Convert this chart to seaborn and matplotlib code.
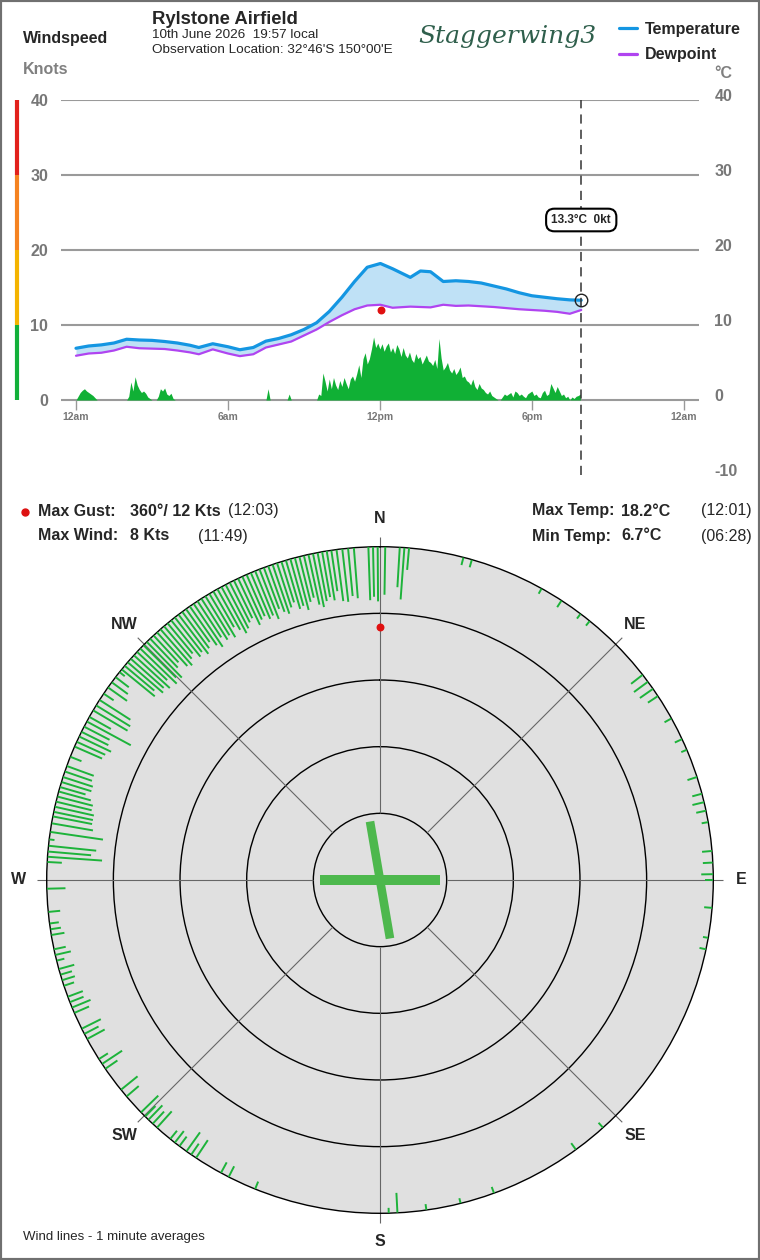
import numpy as np
import pandas as pd
import matplotlib
matplotlib.use('Agg')
import matplotlib.pyplot as plt
import matplotlib.transforms as mtransforms
from matplotlib.patches import Rectangle
from matplotlib.lines import Line2D
import seaborn as sns

sns.set_style('white')
plt.rcParams['font.family'] = ['Liberation Sans', 'DejaVu Sans']

# ---------------- data ----------------
# temperature / dewpoint (hours since midnight)
temp_hours = [0, 0.5, 1, 1.5, 2, 2.5, 3, 3.5, 4, 4.5, 4.85, 5.4, 6, 6.47, 7, 7.5, 8, 8.5, 9, 9.5,
              10, 10.5, 11, 11.5, 12.02, 12.5, 13.2, 13.6, 14.0, 14.5, 15, 15.5, 16, 16.5, 17,
              17.5, 18, 18.5, 19, 19.5, 19.95]
temp_c = [6.9, 7.2, 7.35, 7.6, 8.1, 8.0, 7.95, 7.8, 7.6, 7.3, 7.0, 7.5, 7.1, 6.7, 7.0, 7.85, 8.2, 8.7, 9.4, 10.3,
          11.8, 13.7, 15.8, 17.7, 18.2, 17.5, 16.35, 17.2, 17.1, 15.8, 15.9, 15.8, 15.6, 15.2, 14.8,
          14.3, 13.9, 13.7, 13.5, 13.35, 13.3]
dew_c = [5.9, 6.2, 6.3, 6.6, 7.1, 6.9, 6.85, 6.8, 6.6, 6.35, 6.1, 6.75, 6.2, 5.85, 6.1, 7.0, 7.4, 7.8, 8.6, 9.4,
         10.4, 11.3, 12.1, 12.6, 12.7, 12.3, 12.45, 12.4, 12.35, 12.7, 12.55, 12.6, 12.5, 12.4, 12.25,
         12.1, 12.0, 11.9, 11.75, 11.5, 12.0]

# wind speed, knots, 5 minute steps from midnight (one row per hour)
wind_kts = [
    0, 0.5, 1.0, 1.3, 1.5, 1.2, 1.0, 0.8, 0.6, 0.3, 0, 0,
    0, 0, 0, 0, 0, 0, 0, 0, 0, 0, 0, 0,
    0, 0.5, 2.4, 1.2, 3.1, 2.0, 1.4, 1.0, 1.2, 0.9, 0.4, 0.2,
    0, 0, 0, 0.5, 1.5, 1.2, 1.6, 0.8, 0.6, 0.9, 0.2, 0,
    0, 0, 0, 0, 0, 0, 0, 0, 0, 0, 0, 0,
    0, 0, 0, 0, 0, 0, 0, 0, 0, 0, 0, 0,
    0, 0, 0, 0, 0, 0, 0, 0, 0, 0, 0, 0,
    0, 0, 0, 0, 0, 0, 0, 1.5, 0, 0, 0, 0,
    0, 0, 0, 0, 0, 0.8, 0, 0, 0, 0, 0, 0,
    0, 0, 0, 0, 0, 0, 0, 0.8, 0.6, 3.6, 2.5, 1.2,
    2.8, 1.5, 3.0, 2.0, 1.4, 2.6, 1.8, 3.0, 2.2, 1.5, 2.8, 3.2,
    2.5, 3.5, 4.7, 3.0, 5.5, 6.3, 4.8, 5.5, 6.8, 8.4, 7.0, 7.6,
    6.8, 7.5, 6.5, 7.2, 7.6, 6.4, 7.0, 6.2, 7.4, 6.8, 5.8, 7.0,
    6.0, 5.6, 6.4, 5.4, 5.0, 6.2, 5.5, 5.8, 4.8, 5.4, 6.0, 5.2,
    5.0, 4.6, 5.4, 4.2, 8.2, 5.6, 4.0, 4.4, 5.0, 4.0, 3.6, 4.2,
    3.4, 3.8, 4.4, 3.0, 3.2, 2.6, 2.4, 2.0, 2.8, 1.8, 1.4, 2.2,
    1.6, 1.4, 1.0, 0.8, 1.2, 0.6, 0.4, 0.2, 0, 0, 0.4, 0.8,
    0.6, 0.8, 1.0, 0.4, 1.2, 1.0, 0.6, 0.8, 0.5, 0.3, 0.8, 1.0,
    1.2, 0.6, 0.8, 0.4, 0.3, 1.0, 1.3, 0.6, 0.8, 2.2, 1.6, 1.0,
    1.8, 1.2, 0.6, 0.8, 0.3, 0.5, 0, 0.4, 0.2, 0.5, 0.6, 0.8,
]
wind_step_hr = 5 / 60

now_hour = 19.95
now_temp = 13.3
now_wind = 0
gust_hour = 12.05
gust_kts = 12
gust_dir = 360

x_ticks = [0, 6, 12, 18, 24]
x_labels = ['12am', '6am', '12pm', '6pm', '12am']
left_ticks = [0, 10, 20, 30, 40]
right_ticks = [-10, 0, 10, 20, 30, 40]
band_edges = [0, 10, 20, 30, 40]
band_colors = ['#12b03a', '#f4b400', '#f58220', '#e2211c']

# 1 minute wind lines: direction (deg) and speed (kts)
line_dir = [
    14.5, 16, 29, 33, 37, 39, 52, 53.5, 55, 56.5, 61, 65, 67, 72, 75, 76.5, 78, 80, 85, 87, 89, 90,
    94.8, 100, 102, 138, 144, 160, 166, 172, 177, 178.5,
    202, 207, 208.5, 213.5, 214.5, 215.5, 217, 218, 219, 222, 223, 224, 224.8, 225.8, 229.5, 231,
    235.5, 236.5, 237.5, 241.5, 242.5, 243.5, 246.5, 247.5, 248.5, 249.5, 251.5, 252.5, 253.5, 254.5,
    256, 257, 258, 260.5, 261.5, 262.5, 264.5, 268.5,
    273.1, 274, 274.9, 275.9, 277, 278.3, 279.8, 281, 281.8, 282.7, 283.6, 284.5, 285.4, 286.2,
    287.1, 288, 289, 290, 291.7, 293.6, 294.5, 295.5, 296.4, 297.4, 298.4, 299.3, 300.6, 301.6,
    302.7, 304, 305.3, 306.4, 307.5, 308.6,
    309.2, 310.0, 310.8, 311.6, 312.4, 313.2, 314.0, 314.8, 315.6, 316.4, 317.2, 318.0, 318.8,
    319.6, 320.4, 321.2, 322.0, 322.8, 323.6, 324.4, 325.2, 326.0, 326.8, 327.6, 328.4, 329.2,
    330.0, 330.8, 331.6, 332.4, 333.2, 334.0, 334.8, 335.6, 336.4, 337.2, 338.0, 338.8, 339.6,
    340.4, 341.2, 342.0, 342.8, 343.6, 344.4, 345.2, 346.0, 346.8, 347.6, 348.4, 349.2, 350.0,
    350.8, 351.6, 352.5, 353.5, 354.5, 355.5, 358, 358.8, 359.6, 0.9, 3.4, 4.2, 5.0,
]
line_kts = [
    1.2, 1.2, 0.9, 1.2, 0.9, 0.9, 2.2, 2.6, 2.4, 1.8, 1.2, 1.2, 0.9, 1.5, 1.5, 1.8, 1.5, 1.0, 1.5, 1.5, 1.8, 1.2,
    1.2, 0.8, 1.0, 1.0, 1.2, 1.0, 0.8, 0.9, 3.0, 0.8,
    1.2, 1.8, 1.8, 3.2, 2.0, 3.5, 1.8, 2.2, 1.6, 3.3, 2.5, 3.0, 2.2, 3.6, 2.4, 3.2,
    2.2, 3.6, 1.6, 3.0, 2.4, 3.2, 2.4, 3.0, 2.2, 2.4, 1.6, 2.0, 1.8, 2.4,
    1.2, 2.4, 1.8, 2.0, 1.6, 1.4, 1.8, 2.8,
    2.2, 8.2, 6.5, 7.2, 0.8, 8.0, 6.3, 6.0, 6.0, 6.0, 5.5, 5.5, 5.0, 4.0,
    4.7, 4.7, 4.3, 4.3, 1.8, 4.5, 4.7, 5.3, 4.5, 4.3, 7.5, 3.7, 6.0, 6.0,
    5.5, 1.8, 3.5, 3.0, 2.5, 1.0,
    6.4, 5.8, 7.0, 6.6, 7.3, 6.2, 7.6, 6.9, 7.5, 6.0, 5.5, 6.8, 7.2,
    6.4, 5.9, 7.0, 6.6, 7.4, 6.8, 6.1, 7.1, 7.8, 6.5, 7.3, 6.9, 7.6,
    6.2, 7.0, 7.9, 7.4, 6.7, 6.3, 7.7, 7.1, 6.8, 7.5, 7.2, 8.0, 6.6,
    7.3, 7.8, 7.0, 6.4, 7.6, 7.3, 8.1, 7.0, 6.5, 7.7, 8.2, 7.4, 6.9,
    7.5, 6.2, 7.8, 8.0, 7.2, 7.6, 8.0, 7.5, 8.2, 7.2, 6.0, 7.8, 3.3,
]
ring_kts = [10, 20, 30, 40]
rose_max = 50
cross_dir = [90, 350.3]
cross_len = [9.07, 8.9]
cross_width = [7.2, 6.2]
compass_dir = [0, 45, 90, 135, 180, 225, 270, 315]
compass_lab = ['N', 'NE', 'E', 'SE', 'S', 'SW', 'W', 'NW']

# ---------------- figure ----------------
W, H = 760, 1260
fig = plt.figure(figsize=(W / 100, H / 100), dpi=100)


def px_rect(x0, y0, x1, y1):
    return [x0 / W, 1 - y1 / H, (x1 - x0) / W, (y1 - y0) / H]


def ftxt(x, y, s, **kw):
    kw.setdefault('va', 'center')
    return fig.text(x / W, 1 - y / H, s, **kw)


GRAY = '#808080'
BIG = 11.5

# --- top chart
ax = fig.add_axes(px_rect(60.7, 100, 699, 475))
ax.set_xlim(-0.604, 24.6)
ax.set_ylim(-10, 40)
ax.set_axisbelow(True)

wind_t = np.arange(len(wind_kts)) * wind_step_hr
ax.fill_between(wind_t, 0, wind_kts, color='#10b035', lw=0, zorder=2)

df = pd.DataFrame({'hour': temp_hours, 'Temperature': temp_c, 'Dewpoint': dew_c})
ax.fill_between(df['hour'], df['Dewpoint'], df['Temperature'], color='#bfe1f6', lw=0, zorder=2)
sns.lineplot(data=df, x='hour', y='Dewpoint', color='#b044f0', lw=1.6, ax=ax, zorder=3)
sns.lineplot(data=df, x='hour', y='Temperature', color='#1496e2', lw=2.3, ax=ax, zorder=4)
ax.scatter([gust_hour], [gust_kts], color='#e01010', s=22, zorder=5)

ax.axvline(now_hour, color='#333333', lw=1.1, ls=(0, (6, 4)), zorder=6)
ax.plot([now_hour], [now_temp], 'o', mfc='none', mec='#222222', ms=9, mew=1, zorder=7)
ax.text(now_hour, 24, f'{now_temp}°C  {now_wind}kt', ha='center', va='center', fontsize=8.5,
        fontweight='bold', zorder=8,
        bbox=dict(boxstyle='round,pad=0.45,rounding_size=0.7', fc='white', ec='black', lw=1.5))

ax.set_xlabel('')
ax.set_ylabel('')
ax.grid(False)
ax.yaxis.grid(True, color='#9a9a9a', lw=1.5)
for sp in ax.spines.values():
    sp.set_visible(False)
ax.spines['bottom'].set_position(('data', 0))
ax.set_xticks(x_ticks)
ax.set_xticklabels(x_labels, fontsize=7.5, fontweight='bold', color='#777777')
ax.tick_params(axis='x', length=7, width=1, color='#999999', pad=2, bottom=True)
ax.set_yticks(left_ticks)
ax.set_yticklabels([str(v) for v in left_ticks], fontsize=BIG, fontweight='bold', color='#777777')
ax.tick_params(axis='y', length=0, pad=9)

ax2 = ax.twinx()
ax2.set_ylim(-10, 40)
for sp in ax2.spines.values():
    sp.set_visible(False)
ax2.set_yticks(right_ticks)
ax2.set_yticklabels([str(v) for v in right_ticks], fontsize=BIG, fontweight='bold', color='#777777')
ax2.tick_params(axis='y', length=0, pad=11)
off = mtransforms.ScaledTranslation(0, 5 / 100, fig.dpi_scale_trans)
for lab in ax2.get_yticklabels():
    lab.set_transform(lab.get_transform() + off)

# windspeed colour band
for lo, hi, c in zip(band_edges[:-1], band_edges[1:], band_colors):
    ax.plot([-0.0685, -0.0685], [lo, hi], transform=ax.get_yaxis_transform(), color=c, lw=3,
            solid_capstyle='butt', clip_on=False)

# --- header
ftxt(23, 39, 'Windspeed', fontsize=BIG, fontweight='bold')
ftxt(23, 69, 'Knots', fontsize=BIG, fontweight='bold', color=GRAY)
ftxt(152, 19, 'Rylstone Airfield', fontsize=13.3, fontweight='bold')
ftxt(152, 35, '10th June 2026  19:57 local', fontsize=9.7)
ftxt(152, 50, "Observation Location: 32°46'S 150°00'E", fontsize=9.7)
ftxt(418, 37, 'Staggerwing3', fontsize=18, fontstyle='italic', family=['DejaVu Serif'], color='#2f5f4c')
ftxt(714, 74, '°C', fontsize=BIG, fontweight='bold', color=GRAY)
handles = [Line2D([], [], color='#1496e2', lw=2.3), Line2D([], [], color='#b044f0', lw=2.3)]
fig.legend(handles, ['Temperature', 'Dewpoint'], loc='upper left', bbox_to_anchor=(619 / W, 1 - 22 / H),
           frameon=False, handlelength=1.15, handletextpad=0.5, labelspacing=0.65,
           prop=dict(size=BIG, weight='bold'), borderaxespad=0, borderpad=0)

# --- stats
fig.add_artist(Line2D([25 / W], [1 - 512 / H], marker='o', color='#dd1111', ms=5))
ftxt(38, 511, 'Max Gust:', fontsize=BIG, fontweight='bold')
ftxt(129.5, 511, f'{gust_dir}°/ {gust_kts} Kts', fontsize=BIG, fontweight='bold')
ftxt(228, 511, '(12:03)', fontsize=BIG)
ftxt(38, 536, 'Max Wind:', fontsize=BIG, fontweight='bold')
ftxt(129.5, 536, '8 Kts', fontsize=BIG, fontweight='bold')
ftxt(198, 536, '(11:49)', fontsize=BIG)
ftxt(532, 511, 'Max Temp:', fontsize=BIG, fontweight='bold')
ftxt(621, 511, f'{max(temp_c)}°C', fontsize=BIG, fontweight='bold')
ftxt(701, 511, '(12:01)', fontsize=BIG)
ftxt(532, 536, 'Min Temp:', fontsize=BIG, fontweight='bold')
ftxt(621, 536, f'{min(temp_c)}°C', fontsize=BIG, fontweight='bold')
ftxt(701, 536, '(06:28)', fontsize=BIG)
ftxt(23, 1237, 'Wind lines - 1 minute averages', fontsize=9.5)

# --- wind rose
R = 333.3
pax = fig.add_axes(px_rect(380 - R, 880 - R, 380 + R, 880 + R), projection='polar')
pax.set_theta_zero_location('N')
pax.set_theta_direction(-1)
pax.set_ylim(0, rose_max)
pax.set_facecolor('#e0e0e0')
pax.spines['polar'].set_color('black')
pax.spines['polar'].set_linewidth(1)
pax.set_rgrids(ring_kts, labels=[''] * len(ring_kts))
pax.set_xticks([])
pax.yaxis.grid(True, color='black', lw=1)
pax.xaxis.grid(False)

th = np.deg2rad(compass_dir)
pax.vlines(th, 10, rose_max + 1.4, colors='#666666', lw=0.8, clip_on=False, zorder=2)
for t, lab in zip(th, compass_lab):
    pax.text(t, 54.2, lab, ha='center', va='center', fontsize=BIG, fontweight='bold', clip_on=False)

pax.vlines(np.deg2rad(line_dir), rose_max - np.array(line_kts), rose_max, colors='#1db33a', lw=1.4,
           zorder=3)
pax.scatter([np.deg2rad(gust_dir)], [rose_max - gust_kts], color='#e01010', s=22, zorder=5)

for d, ln, w in zip(cross_dir, cross_len, cross_width):
    pax.vlines(np.deg2rad([d, d + 180]), 0, ln, colors='#4db84d', lw=w, zorder=4)

# figure border
fig.patches.append(Rectangle((0, 0), 1, 1, transform=fig.transFigure, fill=False, ec='#707070', lw=3))

fig.savefig('out.png', dpi=100)
